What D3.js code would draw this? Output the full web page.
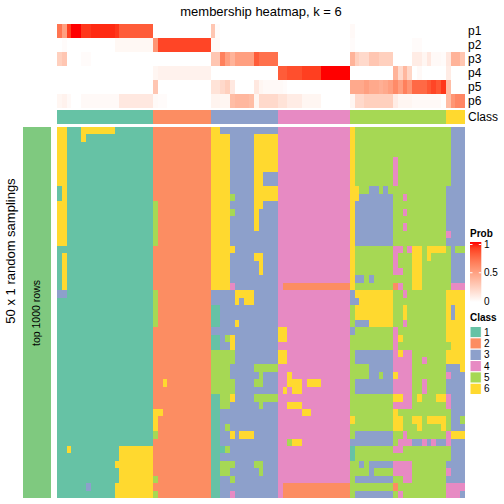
<!DOCTYPE html>
<html><head><meta charset="utf-8">
<script src="https://cdn.jsdelivr.net/npm/d3@7"></script>
<style>
body{margin:0;background:#fff}
svg{display:block}
text{font-family:"Liberation Sans",Arial,Helvetica,sans-serif;fill:#000}
</style>
</head><body>
<svg id="c" width="504" height="504"></svg>
<script>
// ---------------- data ----------------
const chartTitle = "membership heatmap, k = 6";
const classLabels = ["1","2","3","4","5","6"];
const classColors = ["#66C2A5","#FC8D62","#8DA0CB","#E78AC3","#A6D854","#FFD92F"];
const annNames = ["p1","p2","p3","p4","p5","p6"];
const probTicks = [0, 0.5, 1];
const rowGroupLabel = "top 1000 rows";
const sideLabel = "50 x 1 random samplings";

// class of each sample (column)
const sampleClass = [
 1,1,1,1,1,1,1,1,1,1,1,1,1,1,1,1,1,1,1,1,
 2,2,2,2,2,2,2,2,2,2,2,2,
 3,3,3,3,3,3,3,3,3,3,3,3,3,3,
 4,4,4,4,4,4,4,4,4,4,4,4,4,4,4,
 5,5,5,5,5,5,5,5,5,5,5,5,5,5,5,5,5,5,5,5,
 6,6,6,6];

// membership probabilities per sample
const p1 = [0.7,0.5,0.9,1,1,0.92,0.92,0.95,0.95,0.95,0.95,0.95,0.92,0.8,0.8,0.8,0.8,0.8,0.8,0.8,
 0,0,0,0,0,0,0,0,0,0,0,0,
 0.3,0.02,0,0,0,0,0,0,0,0,0,0,0,0,
 0,0,0,0,0,0,0,0,0,0,0,0,0,0,0,
 0.03,0,0,0,0,0,0,0,0,0,0,0,0,0,0,0,0,0,0,0,
 0,0,0,0];
const p2 = [0,0.02,0,0,0,0,0,0,0,0,0,0,0.04,0.04,0.04,0.04,0.04,0.04,0.04,0.04,
 0.55,0.88,0.88,0.88,0.88,0.88,0.88,0.88,0.88,0.88,0.88,0.88,
 0.03,0.03,0,0,0,0,0,0,0,0,0,0,0,0,
 0,0,0,0,0,0,0,0,0,0,0,0,0,0,0,
 0.02,0,0,0,0,0,0,0,0,0,0,0,0,0.02,0.02,0,0,0,0,0,
 0,0,0,0];
const p3 = [0.25,0.3,0,0,0,0.02,0.02,0,0,0,0,0,0,0,0,0,0,0,0,0,
 0,0,0,0,0,0,0,0,0,0,0,0,
 0.3,0.3,0.65,0.5,0.4,0.5,0.5,0.5,0.5,0.8,0.72,0.72,0.72,0.72,
 0,0,0,0,0,0,0,0,0,0,0,0,0,0,0,
 0.4,0.25,0.2,0.2,0.3,0.3,0.25,0.25,0.25,0,0,0,0,0.1,0.1,0.05,0.12,0.03,0.03,0.02,
 0.12,0.4,0.4,0.3];
const p4 = [0,0,0,0,0,0,0,0,0,0,0,0,0,0,0,0,0,0,0,0,
 0.05,0.07,0.07,0.07,0.07,0.07,0.07,0.07,0.07,0.07,0.07,0.07,
 0,0,0,0,0,0,0,0,0,0,0,0,0,0,
 0.8,0.8,0.85,0.85,0.85,0.9,0.9,0.9,0.9,1,1,1,1,1,1,
 0,0,0,0,0,0,0,0,0,0.4,0.2,0.38,0.22,0,0.03,0,0,0,0,0,
 0.1,0,0,0];
const p5 = [0,0,0,0,0,0,0,0,0,0,0,0,0,0,0,0,0,0,0,0,
 0.3,0,0,0,0,0,0,0,0,0,0,0,
 0.15,0.15,0.2,0.25,0.12,0,0,0,0,0.12,0.05,0.03,0.03,0.03,
 0.03,0.02,0,0,0,0,0,0,0,0,0,0,0,0,0,
 0.45,0.45,0.45,0.5,0.45,0.45,0.42,0.45,0.5,0.6,0.5,0.65,0.55,0.75,0.75,0.75,0.82,0.88,0.82,0.92,
 0.35,0,0,0];
const p6 = [0.05,0.07,0.03,0,0,0.03,0.03,0.03,0.03,0.03,0.03,0.03,0.03,0.12,0.12,0.12,0.12,0.12,0.12,0.12,
 0.03,0.02,0.02,0,0,0,0,0,0,0,0,0,
 0.06,0.06,0.05,0.05,0.35,0.38,0.38,0.38,0.35,0.05,0.2,0.2,0.2,0.2,
 0.15,0.15,0.1,0.1,0.1,0.05,0.05,0.05,0.05,0,0,0,0,0,0,
 0.05,0.2,0.2,0.25,0.25,0.25,0.25,0.25,0.25,0.1,0.05,0.05,0.05,0.03,0.03,0.03,0.03,0.03,0.03,0,
 0.35,0.55,0.62,0.62];

// class assigned in each of the 50 random samplings (rows), per column group
const sampling = [
 ["66111666666611111111","222222222222","66333333333333","444444444444444","65555555555555555555","5333"],
 ["66111611111111111111","222222222222","66663333366666","444444444444444","65555555555555555555","5333"],
 ["66111111111111111111","222222222222","66663333366666","444444444444444","65555555555555555555","5333"],
 ["66111111111111111111","222222222222","66663333366666","444444444444444","65555555555555555555","5333"],
 ["66111111111111111111","222222222222","66663333366666","444444444444444","65555555545555555555","5333"],
 ["66111111111111111111","222222222222","66663333366666","444444444444444","65555555545555555555","5333"],
 ["66111111111111111111","222222222222","66663333366333","444444444444444","65555555545555555555","5333"],
 ["66111111111111111111","222222222222","66663333366333","444444444444444","65555555545555555555","5333"],
 ["16111111111111111111","222222222222","66663333366666","444444444444444","66553353555555555555","3333"],
 ["16111111111111111111","222222222222","66665333366666","444444444444444","66333333355455555555","3333"],
 ["66111111111111111111","522222222222","66663333366333","444444444444444","63333333355555555555","3333"],
 ["66111111111111111111","522222222222","66665333363333","444444444444444","63333333355455555555","3333"],
 ["66111111111111111111","522222222222","66663333363333","444444444444444","63333333355555555555","3333"],
 ["66111111111111111111","522222222222","66663333363333","444444444444444","63333333355455555555","3333"],
 ["66111111111111111111","522222222222","66663333333333","444444444444444","63333333355555555555","4333"],
 ["66111111111111111111","522222222222","66663333333333","444444444444444","63333333355555555555","3333"],
 ["11111111111111111111","222222222222","66666333333333","444444444444444","65555555544546656666","5355"],
 ["16111111111111111111","222222222222","66663333366333","444444444444444","65555555545556656555","5333"],
 ["16111111111111111111","222222222222","66663333336333","444444444444444","65555555545556655555","5333"],
 ["16111111111111111111","222222222222","66663333336333","444444444444444","65555555544556655555","5333"],
 ["16111111111111111111","222222222222","66663333333333","444444444444444","63353555555556655555","5333"],
 ["16111111111111111111","222222222222","66664333333333","422222222222222","65555555524556655555","5444"],
 ["33111111111111111111","522222222222","33333666633333","444444444444444","36666666655455555555","6666"],
 ["11111111111111111111","522222222222","33333636633333","444444444444444","33666666655555555555","6666"],
 ["11111111111111111111","522222222222","11333333333333","444444444444444","56666666655655555555","6366"],
 ["11111111111111111111","522222222222","11333333333333","444444444444444","56666666655655555555","6366"],
 ["11111111111111111111","522222222222","11333633333333","444444444444444","53336666655455555555","6666"],
 ["11111111111111111111","222222222222","33333333333333","664444444444444","35555555545555555555","6666"],
 ["11111111111111111111","222222222222","11356333333333","664444444444444","55555555546555555555","6666"],
 ["11111111111111111111","222222222222","11336333333333","444444444444444","55555555545555555555","5666"],
 ["11111111111111111111","222222222222","55555333333333","664444444444444","53333333346445555555","6666"],
 ["11111111111111111111","222222222222","55555333333333","664444444444444","53333333344445545555","6666"],
 ["11111111111111111111","222222222222","55553333355555","444444444444444","55553333344445555555","3336"],
 ["11111111111111111111","222222222222","55553333335333","446444444444444","55553353364445555555","4333"],
 ["11111111111111111111","226222222222","55555333355333","446664666444444","53333333344445545555","3333"],
 ["11111111111111111111","222222222222","55555333333333","464664444444444","53333333344445545555","3333"],
 ["11111111111111111111","222222222222","11556333355555","444444444444444","55555555566445655566","4333"],
 ["11111111111111111111","222222222222","11553333335333","446664444444444","55555555544445555555","4333"],
 ["11111111111111111111","662222222222","11333333333333","444446644444444","55555555565555555555","5333"],
 ["11111111111111111111","622222222222","11333333333333","444444444444444","65555555566556656666","5335"],
 ["11111111111111111111","622222222222","11353333333333","444444444444444","55555555566555655556","5333"],
 ["11111111111111111111","522222222222","11336366633333","444444444444444","53333333355455555555","4666"],
 ["11111111111111111111","222222222222","11333333333333","445664444444444","33333333354443343433","4333"],
 ["11611111111116666666","222222222222","11153333333333","444444444444444","15555555544555555555","5333"],
 ["11111111111116666666","222222222222","11333333333333","444444444444444","15555555555555555555","5333"],
 ["11111111111166666666","222222222222","11555333355333","444444444444444","55353333344445555555","3333"],
 ["11111111111116666666","222222222222","11553333335333","444444444444444","55553555544445555555","4333"],
 ["11111111111116666666","522222222222","11335333333333","444444444444444","53333333355445555555","3333"],
 ["11111131111166666666","222222222222","11333333333333","422222222222222","55555555525555555555","4444"],
 ["11111111111166666666","522222222222","11334333333333","422222222222222","53333333354555555555","4443"]
];

// ---------------- drawing ----------------
const svg = d3.select("#c");
const probRows = [p1, p2, p3, p4, p5, p6];
const rows = sampling.map(s => s.join("").split(""));
const n = sampleClass.length;

const x = d3.scaleBand().domain(d3.range(n)).range([57, 465]);
const annY = d3.scaleBand().domain(annNames).range([24, 108]);
const classRowY = [110, 124];
const y = d3.scaleBand().domain(d3.range(rows.length)).range([127, 498]);
const probColor = d3.scaleLinear().domain([0, 1]).range(["#ffffff", "#ff0000"]).interpolate(d3.interpolateLab);
const classColor = d3.scaleOrdinal().domain(classLabels).range(classColors);

// title
svg.append("text").attr("x", 261).attr("y", 16).attr("text-anchor", "middle")
  .attr("font-size", 13).text(chartTitle);

// probability annotation
const gAnn = svg.append("g").attr("shape-rendering", "crispEdges");
annNames.forEach((nm, r) => {
  gAnn.selectAll(null).data(probRows[r]).enter().append("rect")
    .attr("x", (d, i) => x(i)).attr("y", annY(nm))
    .attr("width", x.bandwidth() + 0.4).attr("height", annY.bandwidth())
    .attr("fill", d => probColor(d));
});
// class annotation
gAnn.selectAll(null).data(sampleClass).enter().append("rect")
  .attr("x", (d, i) => x(i)).attr("y", classRowY[0])
  .attr("width", x.bandwidth() + 0.4).attr("height", classRowY[1] - classRowY[0])
  .attr("fill", d => classColor(String(d)));

// annotation names
annNames.forEach(nm => {
  svg.append("text").attr("x", 468).attr("y", annY(nm) + annY.bandwidth() / 2)
    .attr("dy", "0.35em").attr("font-size", 12).text(nm);
});
svg.append("text").attr("x", 468).attr("y", (classRowY[0] + classRowY[1]) / 2)
  .attr("dy", "0.35em").attr("font-size", 12).text("Class");

// body
const gBody = svg.append("g").attr("shape-rendering", "crispEdges");
rows.forEach((row, j) => {
  gBody.selectAll(null).data(row).enter().append("rect")
    .attr("x", (d, i) => x(i)).attr("y", y(j))
    .attr("width", x.bandwidth() + 0.4).attr("height", y.bandwidth() + 0.4)
    .attr("fill", d => classColor(d));
});

// left group bar
svg.append("rect").attr("x", 23).attr("y", y.range()[0]).attr("width", 28)
  .attr("height", y.range()[1] - y.range()[0]).attr("fill", "#7FC97F");
svg.append("text").attr("transform", "translate(40,313) rotate(-90)")
  .attr("text-anchor", "middle").attr("font-size", 10.5).text(rowGroupLabel);
svg.append("text").attr("transform", "translate(15,251) rotate(-90)")
  .attr("text-anchor", "middle").attr("font-size", 13).text(sideLabel);

// Prob legend
const defs = svg.append("defs");
const grad = defs.append("linearGradient").attr("id", "pg")
  .attr("x1", 0).attr("y1", 1).attr("x2", 0).attr("y2", 0);
d3.range(0, 1.0001, 0.1).forEach(t => {
  grad.append("stop").attr("offset", t).attr("stop-color", probColor(t));
});
svg.append("text").attr("x", 470).attr("y", 237).attr("font-size", 10)
  .attr("font-weight", "bold").text("Prob");
svg.append("rect").attr("x", 470).attr("y", 242).attr("width", 11.3).attr("height", 60)
  .attr("fill", "url(#pg)");
const ly = d3.scaleLinear().domain([0, 1]).range([301, 244.5]);
probTicks.forEach(t => {
  if (t > 0) {
    svg.append("line").attr("x1", 470).attr("x2", 472.5).attr("y1", ly(t)).attr("y2", ly(t))
      .attr("stroke", "#fff").attr("stroke-width", 1);
    svg.append("line").attr("x1", 478.8).attr("x2", 481.3).attr("y1", ly(t)).attr("y2", ly(t))
      .attr("stroke", "#fff").attr("stroke-width", 1);
  }
  svg.append("text").attr("x", 484).attr("y", ly(t)).attr("dy", "0.35em")
    .attr("font-size", 10).text(String(t));
});

// Class legend
svg.append("text").attr("x", 470).attr("y", 321).attr("font-size", 10)
  .attr("font-weight", "bold").text("Class");
const ky = d3.scaleBand().domain(classLabels).range([326.5, 326.5 + 11.34 * 6]);
classLabels.forEach(c => {
  svg.append("rect").attr("x", 470).attr("y", ky(c)).attr("width", 11.34).attr("height", ky.bandwidth())
    .attr("fill", classColor(c)).attr("stroke", "#fff").attr("stroke-width", 1);
  svg.append("text").attr("x", 484).attr("y", ky(c) + ky.bandwidth() / 2).attr("dy", "0.35em")
    .attr("font-size", 10).text(c);
});
</script>
</body></html>
